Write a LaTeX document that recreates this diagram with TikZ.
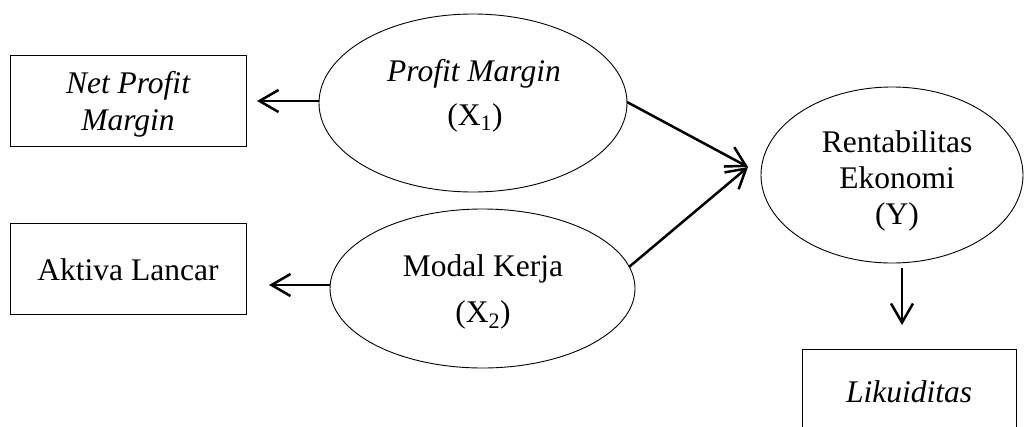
\documentclass[tikz,border=0pt]{standalone}
\usepackage{fontspec}
\setmainfont{Liberation Serif}
\usetikzlibrary{arrows.meta,shapes.geometric}
\begin{document}
\begin{tikzpicture}[x=1pt,y=-1pt,
  lbl/.style={font=\fontsize{31.5}{37}\selectfont, anchor=base, inner sep=0pt},
  boxnode/.style={draw, line width=1pt, rectangle, inner sep=0pt},
  ell/.style={draw, line width=0.9pt, ellipse, inner sep=0pt},
  arr/.style={line width=2.5pt, -{Straight Barb[length=19pt,width=22pt,line width=2.5pt]}}]
\useasboundingbox (0,0) rectangle (1033,426);
\clip (0,0) rectangle (1033,426);
\fill[white] (0,0) rectangle (1033,426);
% boxes
\node[boxnode, minimum width=236pt, minimum height=91pt] (npm) at (128,100.5) {};
\node[boxnode, minimum width=236pt, minimum height=91pt] (al) at (128,268.5) {};
\node[boxnode, minimum width=214pt, minimum height=140pt] (lik) at (909,419) {};
% ellipses
\node[ell, minimum width=308pt, minimum height=178pt] (pm) at (473,103) {};
\node[ell, minimum width=305pt, minimum height=159pt] (mk) at (482.5,288.5) {};
\node[ell, minimum width=262pt, minimum height=176pt] (re) at (892,175) {};
% texts
\node[lbl] (t1) at (128,93) {\itshape Net Profit};
\node[lbl] (t2) at (128,130) {\itshape Margin};
\node[lbl] (t3) at (128,280) {Aktiva Lancar};
\node[lbl] (t4) at (474,81) {\itshape Profit Margin};
\node[lbl] (t5) at (475,125) {(X\textsubscript{1})};
\node[lbl] (t6) at (483,276) {Modal Kerja};
\node[lbl] (t7) at (483,322) {(X\textsubscript{2})};
\node[lbl] (t8) at (897,152) {Rentabilitas};
\node[lbl] (t9) at (897,188) {Ekonomi};
\node[lbl] (t10) at (897,224) {(Y)};
\node[lbl] (t11) at (909,402) {\itshape Likuiditas};
% arrows
\coordinate (npmtip) at (257,101);
\coordinate (altip) at (269,285);
\coordinate (retip) at (748,167);
\coordinate (pmout) at (627,102);
\coordinate (mkout) at (629,267);
\coordinate (reout) at (902,268);
\coordinate (liktip) at (902,325);
\draw[arr] (pm.west |- npmtip) -- (npmtip);
\draw[arr] (mk.west |- altip) -- (altip);
\draw[arr] (pmout) -- (retip);
\draw[arr] (mkout) -- (retip);
\draw[arr] (reout) -- (liktip);
\end{tikzpicture}
\end{document}
